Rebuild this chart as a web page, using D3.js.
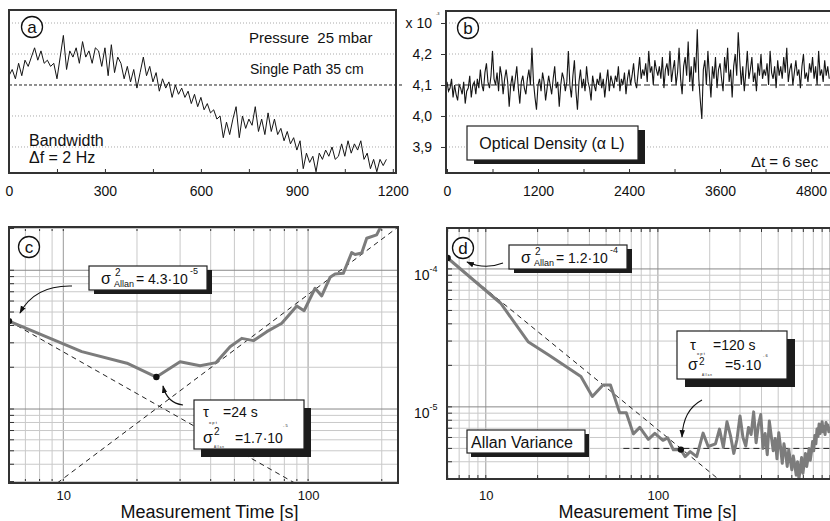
<!DOCTYPE html>
<html>
<head>
<meta charset="utf-8">
<script src="https://cdn.jsdelivr.net/npm/d3@7"></script>
<style>
  body { margin: 0; background: #fff; }
  text { font-family: "Liberation Sans", Arial, sans-serif; fill: #111; white-space: pre; }
</style>
</head>
<body>
<div id="chart"></div>
<script>
// ---- data ----
// (a) optical density, 0..1180 s, every 10 s
var dtA = 10;
var odA = [4.13,4.15,4.12,4.17,4.13,4.18,4.16,4.19,4.22,4.18,4.21,4.17,4.18,4.16,4.17,4.12,4.19,4.26,4.15,4.21,
  4.19,4.22,4.17,4.24,4.19,4.21,4.17,4.22,4.21,4.16,4.22,4.13,4.23,4.14,4.19,4.17,4.12,4.16,4.11,4.15,
  4.09,4.14,4.19,4.13,4.16,4.11,4.14,4.08,4.12,4.09,4.11,4.06,4.10,4.07,4.09,4.06,4.08,4.04,4.07,4.03,
  4.06,4.02,4.04,4.01,4.02,3.99,4.00,3.93,3.98,3.94,3.99,4.03,3.93,4.00,3.96,3.99,3.97,4.03,3.95,3.99,
  3.94,4.01,3.95,3.99,3.94,3.96,3.92,3.95,3.91,3.93,3.89,3.92,3.83,3.88,3.85,3.87,3.82,3.88,3.86,3.89,
  3.87,3.90,3.86,3.87,3.91,3.87,3.92,3.88,3.91,3.89,3.92,3.86,3.88,3.83,3.86,3.82,3.86,3.84,3.86];

// (b) optical density, 0..5040 s, every 20 s
var dtB = 20;
var odB = [4.11,4.08,4.09,4.12,4.06,4.10,4.07,4.05,4.10,4.09, 4.07,4.11,4.04,4.08,4.09,4.13,4.06,4.10,4.11,4.07,
  4.12,4.09,4.15,4.10,4.08,4.14,4.17,4.11,4.09,4.13, 4.21,4.12,4.10,4.14,4.08,4.16,4.13,4.07,4.12,4.15,
  4.11,4.03,4.10,4.13,4.08,4.12,4.16,4.09,4.04,4.11, 4.13,4.09,4.07,4.12,4.15,4.10,4.22,4.11,4.06,4.02,
  4.10,4.12,4.08,4.14,4.11,4.05,4.09,4.13,4.10,4.07, 4.12,4.16,4.09,4.11,4.03,4.10,4.14,4.12,4.08,4.11,
  4.21,4.10,4.06,4.13,4.18,4.08,4.02,4.11,4.15,4.09, 4.12,4.08,4.16,4.11,4.09,4.05,4.13,4.10,4.08,4.12,
  4.10,4.14,4.09,4.12,4.06,4.11,4.15,4.08,4.13,4.11, 4.09,4.13,4.11,4.16,4.08,4.12,4.10,4.14,4.07,4.12,
  4.15,4.10,4.13,4.17,4.11,4.09,4.14,4.19,4.12,4.15, 4.13,4.17,4.11,4.21,4.14,4.16,4.10,4.18,4.15,4.13,
  4.16,4.12,4.19,4.09,4.15,4.17,4.13,4.21,4.11,4.15, 4.18,4.10,4.14,4.22,4.12,4.07,4.16,4.19,4.13,4.24,
  4.11,4.16,4.08,4.19,4.14,4.28,4.12,4.05,3.99,4.15, 4.18,4.10,4.21,4.13,4.06,4.16,4.12,4.19,4.09,4.15,
  4.17,4.12,4.08,4.19,4.14,4.22,4.11,4.15,4.06,4.16, 4.20,4.13,4.27,4.18,4.10,4.16,4.08,4.14,4.21,4.12,
  4.15,4.19,4.11,4.14,4.08,4.17,4.13,4.20,4.12,4.15, 4.13,4.17,4.10,4.21,4.14,4.12,4.16,4.09,4.18,4.13,
  4.16,4.12,4.19,4.14,4.22,4.11,4.15,4.17,4.10,4.14, 4.18,4.13,4.15,4.09,4.16,4.20,4.12,4.14,4.11,4.17,
  4.14,4.19,4.12,4.16,4.10,4.21,4.13,4.15,4.11,4.18, 4.13,4.16,4.12];

// (c) Allan variance
var tauC = [6, 11.9, 18.2, 24, 30, 36.2, 42.1, 48, 53.6, 59.8, 67.8, 78.1, 89.9, 96.3, 106.8, 113.7,
  123, 128.9, 139.3, 150.7, 155.6, 165.6, 173.6, 190.6, 196.8, 210];
var sigC = [4.3e-5, 2.59e-5, 2.14e-5, 1.7e-5, 2.19e-5, 2.05e-5, 2.16e-5, 2.81e-5, 3.23e-5, 3.11e-5, 3.61e-5,
  4.15e-5, 5.53e-5, 5.11e-5, 7.42e-5, 6.53e-5, 8.9e-5, 9.4e-5, 9.5e-5, 1.34e-4, 1.30e-4, 1.33e-4,
  1.70e-4, 1.80e-4, 2.01e-4, 2.4e-4];
var fitWhiteC = [[6, 4.3e-5], [95, 2.72e-6]];
var fitDriftC = [[9.45, 2.93e-6], [240, 2.13e-4]];
var minC = [[6, 4.3e-5], [24, 1.7e-5]];

// (d) Allan variance, first part irregular, then every 12 s from 216 s
var tauD = [6, 12.2, 17.6, 23.2, 35.7, 41.6, 48, 53, 60, 65.5, 72, 78.5, 88, 96, 107, 114, 123, 136,
  144, 154, 168, 183, 196];
var sigD = [1.2e-4, 5.64e-5, 2.97e-5, 2.38e-5, 1.66e-5, 1.19e-5, 1.44e-5, 1.44e-5, 9.05e-6, 9.05e-6,
  6.37e-6, 7.1e-6, 5.81e-6, 6.43e-6, 5.72e-6, 5.96e-6, 4.88e-6, 4.88e-6, 4.36e-6, 4.74e-6, 4.36e-6,
  6.45e-6, 5.16e-6];
var tailStartD = 216, tailStepD = 12;
var sigDtail = [5.4,6.9,5.1,7.8,6.2,4.6,5.8,8.6,6.0,5.2,7.1,6.3,9.2,5.5,7.4,8.8,5.0,6.4,4.5,7.9,
  6.1,4.8,5.9,4.2,6.5,5.1,3.9,5.4,4.6,3.7,4.9,4.1,3.5,4.4,3.8,3.2,4.0,3.0,3.6,4.3,
  3.3,3.9,4.6,3.7,4.2,5.0,4.1,4.7,5.6,4.8,6.2,5.4,6.9,6.1,7.5,6.4,7.0,7.8,6.6,7.2,
  6.3,7.7,6.9,7.4,6.6,7.2]; // x 1e-6
var fitWhiteD = [[6, 1.2e-4], [240, 2.8e-6]];
var floorD = [[63, 5e-6], [1100, 5e-6]];
var minD = [[6, 1.2e-4], [136, 4.9e-6]];

var ticksA = [0, 300, 600, 900, 1200];
var ticksB = [0, 1200, 2400, 3600, 4800];
var ticksOD = [4.3, 4.2, 4.1, 4.0, 3.9];
var ticksLog = [10, 100];

// ---- setup ----
var W = 830, H = 521;
var svg = d3.select("#chart").append("svg").attr("width", W).attr("height", H);
var defs = svg.append("defs");
defs.append("marker").attr("id", "ah").attr("viewBox", "0 0 10 10")
  .attr("refX", 9).attr("refY", 5).attr("markerWidth", 7).attr("markerHeight", 7)
  .attr("orient", "auto")
  .append("path").attr("d", "M0,1.5 L10,5 L0,8.5 Z").attr("fill", "#111");

function clip(id, x0, y0, x1, y1) {
  defs.append("clipPath").attr("id", id).append("rect")
    .attr("x", x0).attr("y", y0).attr("width", x1 - x0).attr("height", y1 - y0);
  return "url(#" + id + ")";
}

var xA = d3.scaleLinear().domain([0, 1210]).range([9, 396]);
var yOD = d3.scaleLinear().domain([3.816, 4.342]).range([173, 10]);
var xB = d3.scaleLinear().domain([0, 5050]).range([447, 830]);
var xC = d3.scaleLog().domain([6, 233]).range([9, 398]);
var yC = d3.scaleLog().domain([2.93e-6, 2.05e-4]).range([483, 227]);
var xD = d3.scaleLog().domain([5.95, 1000]).range([447, 830]);
var yD = d3.scaleLog().domain([3.0e-6, 1.98e-4]).range([479, 228]);

function circled(x, y, ch) {
  svg.append("circle").attr("cx", x).attr("cy", y).attr("r", 10.5)
    .attr("fill", "#fff").attr("stroke", "#111").attr("stroke-width", 1.3);
  svg.append("text").attr("x", x).attr("y", y + 6).attr("text-anchor", "middle")
    .style("font-size", "17px").text(ch);
}
function shadowBox(x, y, w, h, dx, dy) {
  svg.append("rect").attr("x", x + dx).attr("y", y + dy).attr("width", w).attr("height", h).attr("fill", "#1c1c1c");
  svg.append("rect").attr("x", x).attr("y", y).attr("width", w).attr("height", h)
    .attr("fill", "#fff").attr("stroke", "#222").attr("stroke-width", 1.2);
}
function txt(x, y, s, size, anchor) {
  return svg.append("text").attr("x", x).attr("y", y).attr("text-anchor", anchor || "start")
    .style("font-size", size + "px").text(s);
}
function arrow(x0, y0, cx, cy, x1, y1) {
  svg.append("path").attr("d", "M" + x0 + "," + y0 + " Q" + cx + "," + cy + " " + x1 + "," + y1)
    .attr("fill", "none").attr("stroke", "#111").attr("stroke-width", 1.1)
    .attr("marker-end", "url(#ah)");
}

// ---- panels a & b (time series) ----
function odPanel(x, x0, x1, data, dt, ticks, minorStep, cp, lw) {
  var g = svg.append("g");
  ticksOD.filter(function (v) { return v !== 4.1; }).forEach(function (v) {
    g.append("line").attr("x1", x0).attr("x2", x1).attr("y1", yOD(v)).attr("y2", yOD(v))
      .attr("stroke", "#aaa").attr("stroke-dasharray", "1,2");
  });
  g.append("g").attr("clip-path", cp).append("path")
    .datum(data)
    .attr("d", d3.line().x(function (d, i) { return x(i * dt); }).y(function (d) { return yOD(d); }))
    .attr("fill", "none").attr("stroke", "#151515").attr("stroke-width", lw);
  var ax = g.append("g").attr("transform", "translate(0,173)")
    .call(d3.axisBottom(x).tickValues(d3.range(0, x.domain()[1], minorStep))
      .tickSize(-4).tickPadding(13)
      .tickFormat(function (d) { return ticks.indexOf(d) >= 0 ? d : ""; }));
  ax.select(".domain").remove();
  ax.selectAll("line").attr("stroke", "#333");
  ax.selectAll("text").style("font-size", "14px").attr("fill", "#111");
  return g;
}
var gA = odPanel(xA, 9, 396, odA, dtA, ticksA, 150, clip("ca", 9, 10, 396, 173), 1);
gA.append("line").attr("x1", 9).attr("x2", 404).attr("y1", yOD(4.1)).attr("y2", yOD(4.1))
  .attr("stroke", "#222").attr("stroke-dasharray", "3,2");
svg.append("rect").attr("x", 9).attr("y", 10).attr("width", 387).attr("height", 163)
  .attr("fill", "none").attr("stroke", "#333").attr("stroke-width", 2);

var gB = odPanel(xB, 446, 830, odB, dtB, ticksB, 600, clip("cb", 446, 11, 830, 173), 1.1);
gB.append("line").attr("x1", 446).attr("x2", 830).attr("y1", yOD(4.1)).attr("y2", yOD(4.1))
  .attr("stroke", "#222").attr("stroke-dasharray", "6,3");
svg.append("rect").attr("x", 446).attr("y", 11).attr("width", 400).attr("height", 162)
  .attr("fill", "none").attr("stroke", "#333").attr("stroke-width", 2);

var ay = svg.append("g").attr("transform", "translate(446,0)")
  .call(d3.axisLeft(yOD).tickValues(ticksOD).tickSize(5).tickPadding(9)
    .tickFormat(function (d) { return d === 4.3 ? "x 10" : d.toFixed(1).replace(".", ","); }));
ay.select(".domain").remove();
ay.selectAll("line").attr("stroke", "#333");
ay.selectAll("text").style("font-size", "14px").attr("fill", "#111");
txt(436, 15, "-3", 4);

circled(32, 27, "a");
txt(249, 43, "Pressure  25 mbar", 15);
txt(250, 74, "Single Path 35 cm", 14);
txt(29, 146, "Bandwidth", 16);
txt(29, 163, "\u0394f = 2 Hz", 16);

circled(468, 28, "b");
shadowBox(467, 126, 171, 34, 7, 4);
txt(552, 149, "Optical Density (\u03b1 L)", 16, "middle");
txt(751, 167, "\u0394t = 6 sec", 15);

// ---- panels c & d (Allan plots) ----
function isDecade(v) { var l = Math.log10(v); return Math.abs(l - Math.round(l)) < 1e-6; }
function logPanel(x, y, x0, x1, y0, y1, cp) {
  var g = svg.append("g");
  x.ticks().forEach(function (v) {
    g.append("line").attr("x1", x(v)).attr("x2", x(v)).attr("y1", y0).attr("y2", y1)
      .attr("stroke", isDecade(v) ? "#999" : "#c9c9c9").attr("stroke-width", 1);
    g.append("line").attr("x1", x(v)).attr("x2", x(v)).attr("y1", y1).attr("y2", y1 - 4).attr("stroke", "#333");
    g.append("line").attr("x1", x(v)).attr("x2", x(v)).attr("y1", y0).attr("y2", y0 + 4).attr("stroke", "#333");
  });
  y.ticks().forEach(function (v) {
    g.append("line").attr("x1", x0).attr("x2", x1).attr("y1", y(v)).attr("y2", y(v))
      .attr("stroke", isDecade(v) ? "#888" : "#c9c9c9").attr("stroke-width", 1);
    g.append("line").attr("x1", x0).attr("x2", x0 + 5).attr("y1", y(v)).attr("y2", y(v)).attr("stroke", "#333");
  });
  var ax = g.append("g").attr("transform", "translate(0," + y1 + ")")
    .call(d3.axisBottom(x).tickValues(ticksLog).tickSize(0).tickPadding(y1 > 480 ? 8 : 12)
      .tickFormat(d3.format("d")));
  ax.select(".domain").remove();
  ax.selectAll("text").style("font-size", "13px").attr("fill", "#111");
  txt((x0 + Math.min(x1, 830)) / 2 + (x1 > 830 ? 9 : 6), 518, "Measurement Time [s]", 18, "middle");
  return g.append("g").attr("clip-path", cp);
}
function dashed(g, x, y, pts, dash) {
  g.append("path").datum(pts)
    .attr("d", d3.line().x(function (d) { return x(d[0]); }).y(function (d) { return y(d[1]); }))
    .attr("fill", "none").attr("stroke", "#222").attr("stroke-width", 1).attr("stroke-dasharray", dash);
}
function curve(g, x, y, taus, sigs) {
  g.append("path").datum(taus)
    .attr("d", d3.line().x(function (d) { return x(d); }).y(function (d, i) { return y(sigs[i]); }))
    .attr("fill", "none").attr("stroke", "#7c7c7c").attr("stroke-width", 3).attr("stroke-linejoin", "round");
}
function dots(g, x, y, pts) {
  pts.forEach(function (p) {
    g.append("circle").attr("cx", x(p[0])).attr("cy", y(p[1])).attr("r", 3.2).attr("fill", "#111");
  });
}

var gC = logPanel(xC, yC, 9, 398, 227, 483, clip("cc", 8, 226, 399, 484));
dashed(gC, xC, yC, fitWhiteC, "5,4");
dashed(gC, xC, yC, fitDriftC, "5,4");
curve(gC, xC, yC, tauC, sigC);
dots(gC, xC, yC, minC);
svg.append("rect").attr("x", 9).attr("y", 227).attr("width", 389).attr("height", 256)
  .attr("fill", "none").attr("stroke", "#333").attr("stroke-width", 2);

var gD = logPanel(xD, yD, 447, 840, 228, 479, clip("cd", 446, 227, 840, 480));
dashed(gD, xD, yD, fitWhiteD, "5,4");
dashed(gD, xD, yD, floorD, "6,4");
var tauDall = tauD.concat(sigDtail.map(function (v, i) { return tailStartD + i * tailStepD; }));
var sigDall = sigD.concat(sigDtail.map(function (v) { return v * 1e-6; }));
curve(gD, xD, yD, tauDall, sigDall);
dots(gD, xD, yD, minD);
svg.append("rect").attr("x", 447).attr("y", 228).attr("width", 400).attr("height", 251)
  .attr("fill", "none").attr("stroke", "#333").attr("stroke-width", 2);

[[1e-4, "-4"], [1e-5, "-5"]].forEach(function (t) {
  var tt = svg.append("text").attr("x", 414).attr("y", yD(t[0]) + 11).style("font-size", "14px");
  tt.append("tspan").text("10");
  tt.append("tspan").attr("dy", -8).style("font-size", "9px").text(t[1]);
});

// annotations c
circled(29, 247, "c");
function allanBox(bx, by, val, ex) {
  shadowBox(bx, by, 118, 24, 5, 4);
  txt(bx + 12, by + 18, "\u03c3", 16);
  txt(bx + 26, by + 10, "2", 10);
  txt(bx + 25, by + 21, "Allan", 9);
  txt(bx + 47, by + 18, "= " + val + "\u00b710", 14);
  txt(bx + 101, by + 8, ex, 9);
}
allanBox(89, 266, "4.3", "-5");
arrow(72, 286, 35, 285, 20, 313);
shadowBox(194, 400, 110, 49, 7, 8);
txt(203, 417, "\u03c4", 15);
txt(209, 424, "o p t", 4);
txt(223, 417, "=24 s", 14);
txt(214, 435, "2", 10);
txt(203, 443, "\u03c3", 16);
txt(214, 448, "A l l a n", 3);
txt(235, 443, "=1.7\u00b710", 14);
txt(283, 427, "- 5", 4);
arrow(183, 405, 167, 403, 163, 386);

// annotations d
circled(463, 248, "d");
allanBox(509, 245, "1.2", "-4");
arrow(503, 263, 485, 270, 467, 262);
shadowBox(677, 331, 110, 48, 8, 8);
txt(690, 350, "\u03c4", 15);
txt(697, 355, "o p t", 4);
txt(713, 350, "=120 s", 14);
txt(763, 357, "- 6", 4);
txt(688, 370, "\u03c3", 16);
txt(699, 365, "2", 10);
txt(702, 376, "A l l a n", 3);
txt(725, 370, "=5\u00b710", 14);
arrow(702, 400, 683, 410, 682, 437);
shadowBox(467, 430, 118, 23, 4, 4);
txt(471, 448, "Allan Variance", 16);
</script>
</body>
</html>
